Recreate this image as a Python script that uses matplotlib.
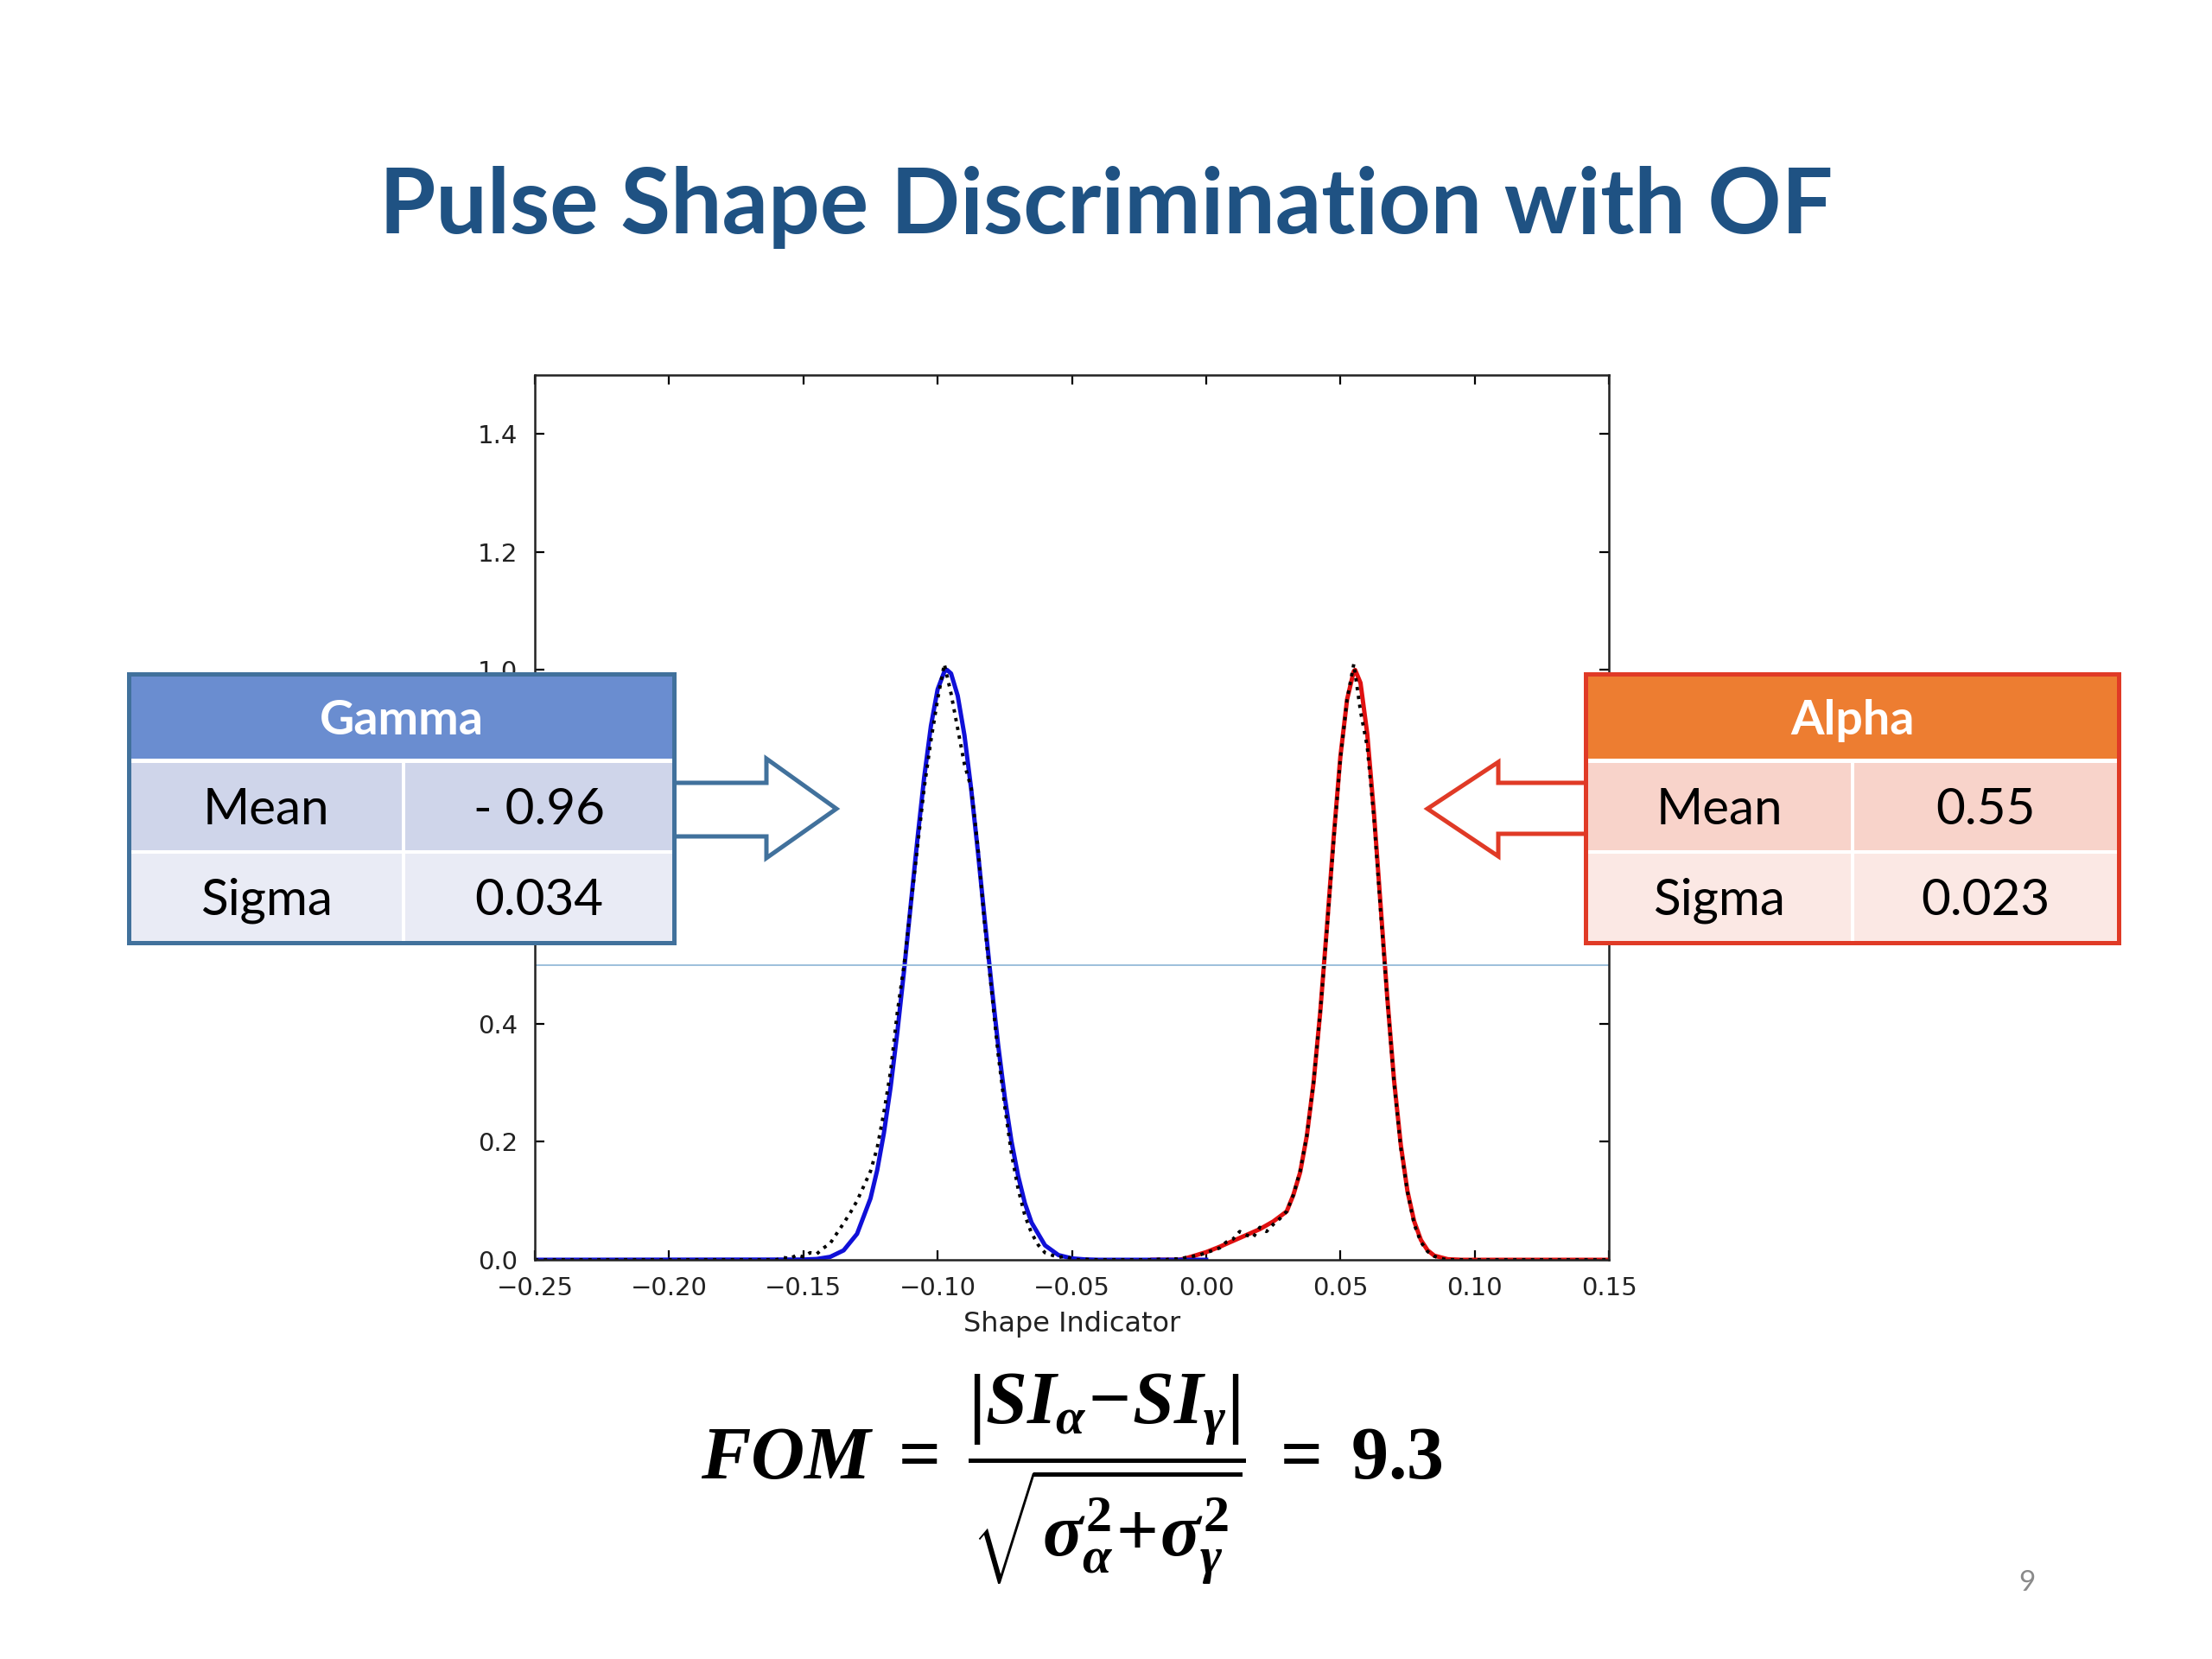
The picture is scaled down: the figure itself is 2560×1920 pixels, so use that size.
import matplotlib
matplotlib.use('Agg')
import matplotlib.pyplot as plt
from matplotlib.patches import Rectangle, Polygon

plt.rcParams['mathtext.fontset'] = 'custom'
plt.rcParams['mathtext.it'] = 'Liberation Serif:italic:bold'
plt.rcParams['mathtext.rm'] = 'Liberation Serif:bold'
plt.rcParams['mathtext.bf'] = 'Liberation Serif:bold'

# --- data ---
x_ticks = [-0.25, -0.20, -0.15, -0.10, -0.05, 0.00, 0.05, 0.10, 0.15]
y_ticks = [0.0, 0.2, 0.4, 0.6, 0.8, 1.0, 1.2, 1.4]
hidden_y = [0.6, 0.8]  # labels sitting under the Gamma table

# gamma fit (blue)
gamma_fit_x = [-0.25, -0.15, -0.145, -0.14, -0.135, -0.13, -0.125, -0.1225, -0.12,
               -0.1175, -0.115, -0.1125, -0.11, -0.1075, -0.105, -0.1025, -0.1,
               -0.0975, -0.0965, -0.095, -0.0925, -0.09, -0.0875, -0.085, -0.0825,
               -0.08, -0.0775, -0.075, -0.0725, -0.07, -0.0675, -0.065, -0.06,
               -0.055, -0.05, -0.045, -0.04, 0.0]
gamma_fit_y = [0.0, 0.0004, 0.0014, 0.005, 0.016, 0.044, 0.104, 0.152, 0.215,
               0.293, 0.386, 0.490, 0.602, 0.714, 0.818, 0.905, 0.967,
               0.997, 1.0, 0.994, 0.956, 0.889, 0.798, 0.692, 0.579,
               0.469, 0.366, 0.276, 0.201, 0.142, 0.096, 0.063, 0.0245,
               0.008, 0.0024, 0.0006, 0.0, 0.0]

# alpha fit (red), with low-side tail
alpha_fit_x = [-0.02, -0.01, -0.008, -0.005, 0.0, 0.005, 0.01, 0.015, 0.02, 0.025,
               0.03, 0.0325, 0.035, 0.0375, 0.04, 0.0425, 0.045, 0.0475, 0.05,
               0.0525, 0.055, 0.0555, 0.0575, 0.06, 0.0625, 0.065, 0.0675, 0.07,
               0.0725, 0.075, 0.0775, 0.08, 0.0825, 0.085, 0.09, 0.095, 0.15]
alpha_fit_y = [0.0, 0.0, 0.002, 0.006, 0.013, 0.022, 0.032, 0.042, 0.052, 0.065,
               0.082, 0.11, 0.148, 0.21, 0.30, 0.42, 0.565, 0.716, 0.853,
               0.95, 0.998, 1.0, 0.978, 0.892, 0.758, 0.600, 0.443, 0.304,
               0.195, 0.116, 0.065, 0.0335, 0.016, 0.007, 0.001, 0.0, 0.0]

# measured histogram (black dotted)
data_x = [-0.25, -0.16, -0.1575, -0.155, -0.1525, -0.15, -0.1475, -0.145, -0.1425,
          -0.14, -0.1375, -0.135, -0.1325, -0.13, -0.1275, -0.125, -0.1225, -0.12,
          -0.1175, -0.115, -0.1125, -0.11, -0.1075, -0.105, -0.1025, -0.1, -0.0975,
          -0.095, -0.0925, -0.09, -0.0875, -0.085, -0.0825, -0.08, -0.0775, -0.075,
          -0.0725, -0.07, -0.0675, -0.065, -0.0625, -0.06, -0.0575, -0.055, -0.0525,
          -0.05, -0.0475, -0.045, -0.0425, -0.04,
          -0.02, -0.0175, -0.015, -0.0125, -0.01, -0.0075, -0.005, -0.0025, 0.0,
          0.0025, 0.005, 0.0075, 0.01, 0.0125, 0.015, 0.0175, 0.02, 0.0225, 0.025,
          0.0275, 0.03, 0.0325, 0.035, 0.0375, 0.04, 0.0425, 0.045, 0.0475, 0.05,
          0.0525, 0.055, 0.0575, 0.06, 0.0625, 0.065, 0.0675, 0.07, 0.0725, 0.075,
          0.0775, 0.08, 0.0825, 0.085, 0.0875, 0.09, 0.095, 0.15]
data_y = [0.0, 0.0, 0.004, 0.002, 0.008, 0.005, 0.012, 0.010, 0.020,
          0.028, 0.045, 0.062, 0.080, 0.100, 0.125, 0.150, 0.19, 0.25,
          0.32, 0.42, 0.50, 0.60, 0.70, 0.80, 0.88, 0.95, 1.01,
          0.96, 0.90, 0.84, 0.80, 0.70, 0.57, 0.46, 0.35, 0.26,
          0.18, 0.12, 0.075, 0.045, 0.025, 0.012, 0.008, 0.004, 0.006,
          0.002, 0.0, 0.001, 0.0, 0.0,
          0.0, 0.001, 0.0, 0.002, 0.001, 0.004, 0.006, 0.008, 0.012,
          0.016, 0.020, 0.030, 0.035, 0.048, 0.042, 0.038, 0.055, 0.048, 0.060,
          0.070, 0.082, 0.11, 0.15, 0.21, 0.30, 0.42, 0.56, 0.71, 0.85,
          0.95, 1.01, 0.93, 0.87, 0.75, 0.59, 0.44, 0.30, 0.19, 0.115,
          0.06, 0.03, 0.014, 0.006, 0.002, 0.0, 0.0, 0.0]

half_max = 0.5

gamma_rows = [("Mean", "- 0.96"), ("Sigma", "0.034")]
alpha_rows = [("Mean", "0.55"), ("Sigma", "0.023")]

title = "Pulse Shape Discrimination with OF"
fom = (r"$FOM\;=\;\dfrac{\left|SI_{\alpha}\!-\!SI_{\gamma}\right|}"
       r"{\sqrt{\sigma_{\alpha}^{2}\!+\!\sigma_{\gamma}^{2}}}\;=\;9.3$")

# --- figure ---
W, H = 2560, 1920
fig = plt.figure(figsize=(12.8, 9.6), dpi=200)
fig.patch.set_facecolor('white')

ax = fig.add_axes([619 / W, 1 - 1458 / H, (1862 - 619) / W, (1458 - 434) / H])
ax.plot(alpha_fit_x, alpha_fit_y, color='#e01010', lw=1.8)
ax.plot(gamma_fit_x, gamma_fit_y, color='#1010d8', lw=1.8)
ax.plot(data_x, data_y, color='black', ls=':', lw=1.4)
ax.axhline(half_max, color='#9cc0dc', lw=0.7)

ax.set_xlim(-0.25, 0.15)
ax.set_ylim(0, 1.5)
ax.set_xticks(x_ticks)
ax.set_xticklabels(['%.2f' % v if v >= 0 else '\u2212%.2f' % -v for v in x_ticks])
ax.set_yticks(y_ticks)
ax.set_yticklabels(['' if v in hidden_y else '%.1f' % v for v in y_ticks])
ax.tick_params(direction='in', top=True, right=True, length=4, width=0.8,
               labelsize=10.5, labelcolor='#222222', pad=7)
for s in ax.spines.values():
    s.set_linewidth(0.9)
    s.set_color('#222222')
ax.set_xlabel("Shape Indicator", fontsize=11.5, color='#222222', labelpad=4)

# overlay in pixel coordinates for slide elements
ov = fig.add_axes([0, 0, 1, 1], zorder=5)
ov.set_xlim(0, W)
ov.set_ylim(H, 0)
ov.axis('off')
ov.patch.set_alpha(0)

ov.text(1280, 240, title, ha='center', va='center', fontsize=38,
        fontweight='bold', family='Lato', color='#1f5283')


def draw_table(x0, x1, xmid, name, rows, head_c, row_cs, edge_c):
    y0, yh, ym, y1 = 780, 878, 986, 1091
    ov.add_patch(Rectangle((x0, y0), x1 - x0, y1 - y0, facecolor='white',
                           edgecolor='none', zorder=1))
    ov.add_patch(Rectangle((x0, y0), x1 - x0, yh - y0, facecolor=head_c,
                           edgecolor='none', zorder=2))
    ov.add_patch(Rectangle((x0, yh + 5), xmid - x0 - 2, ym - yh - 7,
                           facecolor=row_cs[0], edgecolor='none', zorder=2))
    ov.add_patch(Rectangle((xmid + 2, yh + 5), x1 - xmid - 2, ym - yh - 7,
                           facecolor=row_cs[0], edgecolor='none', zorder=2))
    ov.add_patch(Rectangle((x0, ym + 2), xmid - x0 - 2, y1 - ym - 2,
                           facecolor=row_cs[1], edgecolor='none', zorder=2))
    ov.add_patch(Rectangle((xmid + 2, ym + 2), x1 - xmid - 2, y1 - ym - 2,
                           facecolor=row_cs[1], edgecolor='none', zorder=2))
    ov.add_patch(Rectangle((x0, y0), x1 - x0, y1 - y0, facecolor='none',
                           edgecolor=edge_c, lw=1.8, zorder=3))
    ov.text((x0 + x1) / 2, (y0 + yh) / 2 + 5, name, ha='center', va='center',
            fontsize=20, fontweight='bold', family='Lato', color='white', zorder=4)
    for (lab, val), yc in zip(rows, [(yh + ym) / 2 + 5, (ym + y1) / 2 + 4]):
        ov.text((x0 + xmid) / 2, yc, lab, ha='center', va='center',
                fontsize=21, family='Lato', color='black', zorder=4)
        ov.text((xmid + x1) / 2, yc, val, ha='center', va='center',
                fontsize=21, family='Lato', color='black', zorder=4)


# arrows
ov.add_patch(Polygon([(770, 906), (887, 906), (887, 878), (968, 936), (887, 993),
                      (887, 968), (770, 968)], closed=False, facecolor='white',
                     edgecolor='#41719c', lw=1.8, zorder=0.5))
ov.add_patch(Polygon([(1845, 906), (1734, 906), (1734, 882), (1652, 936), (1734, 991),
                      (1734, 965), (1845, 965)], closed=False, facecolor='white',
                     edgecolor='#e03a26', lw=1.8, zorder=0.5))

draw_table(149, 780, 467, "Gamma", gamma_rows, '#6a8dd0',
           ['#cfd5ea', '#e9ebf5'], '#41719c')
draw_table(1835, 2452, 2144, "Alpha", alpha_rows, '#ed7d31',
           ['#f8d3ca', '#fbe8e4'], '#e03a26')

ov.text(1240, 1712, fom, ha='center', va='center', fontsize=31, color='black')
ov.text(2346, 1832, "9", ha='center', va='center', fontsize=12,
        family='Lato', color='#8a8a8a')

fig.savefig('out.png', dpi=200)
plt.close(fig)
